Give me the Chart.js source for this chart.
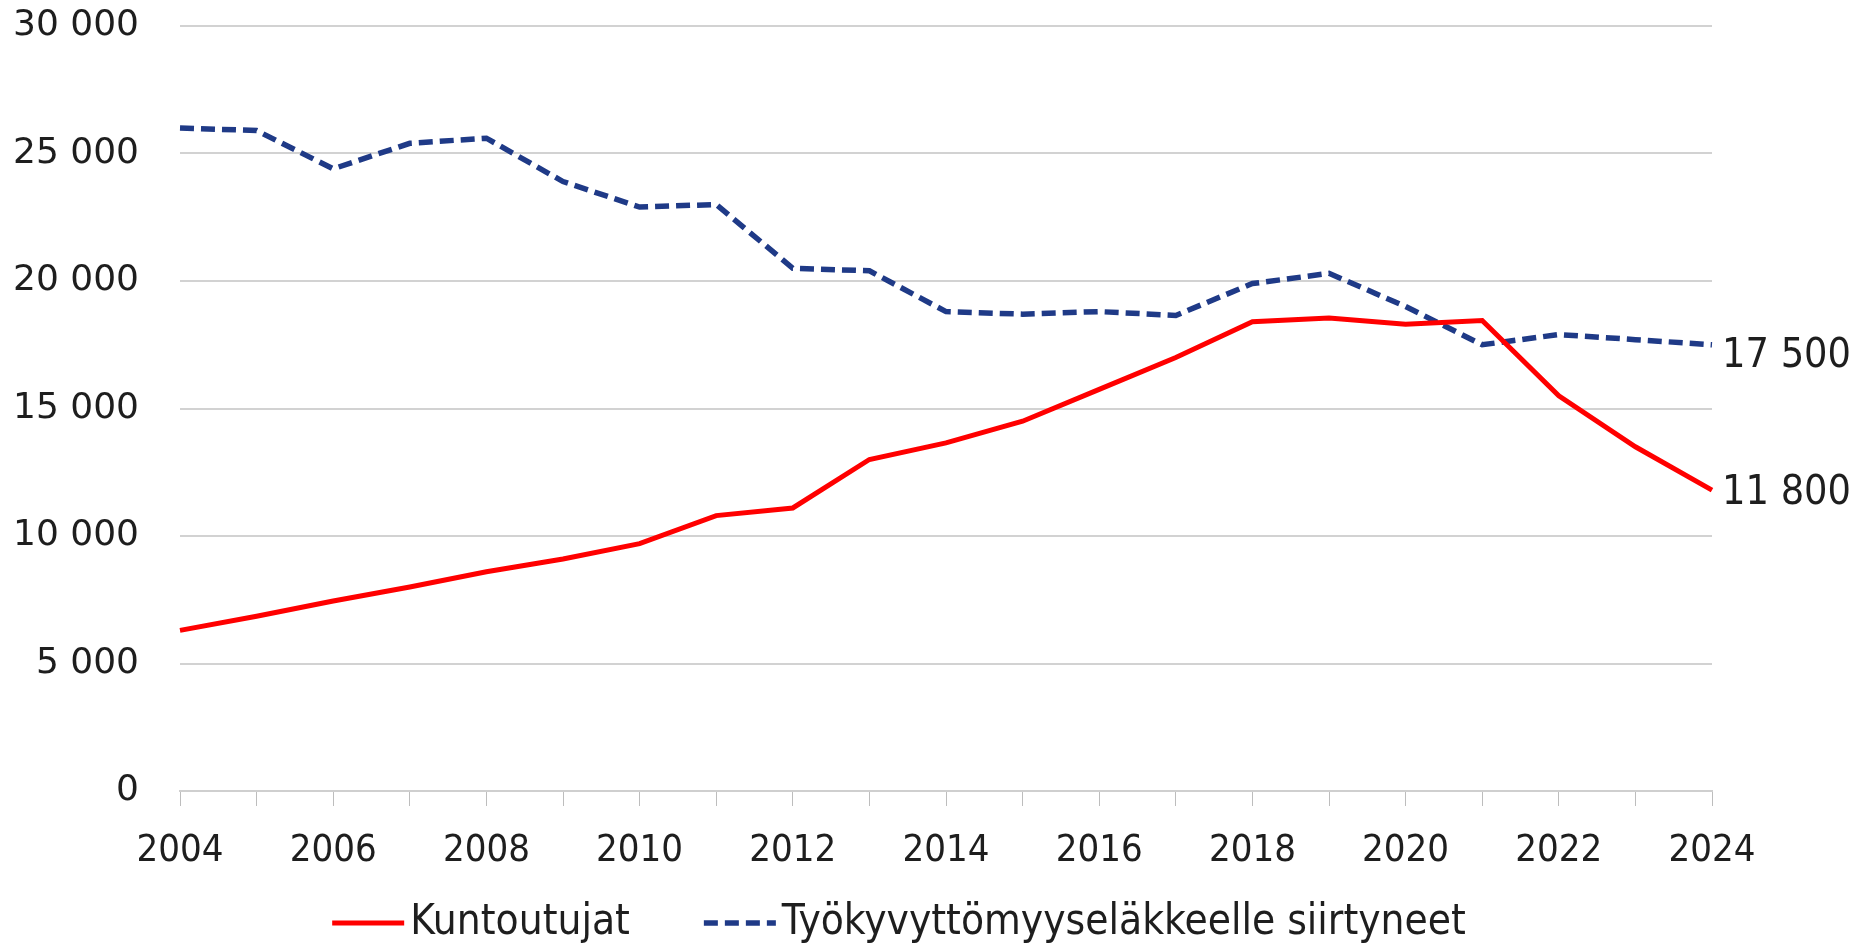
<!DOCTYPE html>
<html>
<head>
<meta charset="utf-8">
<script src="https://cdn.jsdelivr.net/npm/chart.js@4.4.1/dist/chart.umd.min.js"></script>
<style>
  html, body { margin: 0; padding: 0; background: #fff; }
  #wrap { width: 1860px; height: 947px; position: relative; }
</style>
</head>
<body>
<div id="wrap"><canvas id="chart"></canvas></div>
<script>
// Data
const years = ['2004', '2005', '2006', '2007', '2008', '2009', '2010', '2011', '2012', '2013', '2014',
  '2015', '2016', '2017', '2018', '2019', '2020', '2021', '2022', '2023', '2024'];
const kuntoutujat = [6300, 6850, 7450, 8000, 8600, 9100, 9700, 10800, 11100, 13000, 13650,
  14500, 15750, 17000, 18400, 18550, 18300, 18450, 15500, 13500, 11800];
const tkSiirtyneet = [26000, 25900, 24400, 25400, 25600, 23900, 22900, 23000, 20500, 20400, 18800,
  18700, 18800, 18650, 19900, 20300, 19000, 17500, 17900, 17700, 17500];
const yTicks = [0, 5000, 10000, 15000, 20000, 25000, 30000];

const narrowFont = '"Liberation Sans Narrow", "DejaVu Sans Condensed", sans-serif';
const wideFont = '"DejaVu Sans", Verdana, sans-serif';
const textColor = '#1e1e1e';
const labelSize = 38;

function fmt(v) {
    return String(v).replace(/\B(?=(\d{3})+(?!\d))/g, ' ');
}

// value labels at the right end of each line
const endLabels = {
    id: 'endLabels',
    afterDatasetsDraw(chart) {
        const ctx = chart.ctx;
        ctx.save();
        ctx.font = '41px ' + narrowFont;
        ctx.fillStyle = textColor;
        ctx.textAlign = 'left';
        ctx.textBaseline = 'middle';
        chart.data.datasets.forEach((ds, i) => {
            const meta = chart.getDatasetMeta(i);
            const last = meta.data[meta.data.length - 1];
            const val = ds.data[ds.data.length - 1];
            ctx.fillText(fmt(val), last.x + 10, last.y + (i === 1 ? 12 : 3));
        });
        ctx.restore();
    }
};

// simple legend under the axis: line sample close to its text
const bottomLegend = {
    id: 'bottomLegend',
    afterDraw(chart) {
        const ctx = chart.ctx;
        const area = chart.chartArea;
        const sampleW = 72, gap = 6, itemGap = 74;
        ctx.save();
        ctx.font = '42px ' + narrowFont;
        const items = chart.data.datasets.map(ds => ({ ds, w: ctx.measureText(ds.label).width }));
        let total = 0;
        items.forEach((it, i) => { total += sampleW + gap + it.w + (i > 0 ? itemGap : 0); });
        let x = (area.left + area.right) / 2 - 47 - total / 2;
        const y = chart.height - 24;
        items.forEach(it => {
            ctx.beginPath();
            ctx.strokeStyle = it.ds.borderColor;
            ctx.lineWidth = it.ds.borderWidth;
            ctx.setLineDash(it.ds.borderDash || []);
            ctx.moveTo(x, y);
            ctx.lineTo(x + sampleW, y);
            ctx.stroke();
            ctx.setLineDash([]);
            ctx.fillStyle = textColor;
            ctx.textAlign = 'left';
            ctx.textBaseline = 'middle';
            ctx.fillText(it.ds.label, x + sampleW + gap, y);
            x += sampleW + gap + it.w + itemGap;
        });
        ctx.restore();
    }
};

new Chart(document.getElementById('chart'), {
    type: 'line',
    data: {
        labels: years,
        datasets: [{
            label: 'Kuntoutujat',
            data: kuntoutujat,
            borderColor: '#ff0000',
            backgroundColor: '#ff0000',
            borderWidth: 5,
            pointRadius: 0,
            tension: 0
        }, {
            label: 'Työkyvyttömyyseläkkeelle siirtyneet',
            data: tkSiirtyneet,
            borderColor: '#1f3a87',
            backgroundColor: '#1f3a87',
            borderWidth: 5.5,
            borderDash: [14, 7],
            pointRadius: 0,
            tension: 0
        }]
    },
    options: {
        responsive: true,
        maintainAspectRatio: false,
        animation: false,
        layout: { padding: { top: 26, right: 148, left: 0, bottom: 0 } },
        plugins: {
            tooltip: { enabled: false },
            legend: { display: false }
        },
        scales: {
            x: {
                grid: {
                    display: true,
                    drawOnChartArea: false,
                    drawTicks: true,
                    tickLength: 15,
                    color: '#bdbdbd',
                    lineWidth: 1
                },
                border: { display: true, color: '#cfcfcf', width: 2 },
                ticks: {
                    autoSkip: false,
                    maxRotation: 0,
                    padding: 22,
                    color: textColor,
                    font: { family: narrowFont, size: labelSize },
                    callback: function (val, idx) {
                        const lab = this.getLabelForValue(val);
                        return idx % 2 === 0 ? lab : '';
                    }
                },
                afterFit(scale) {
                    scale.height = 156;
                    scale.paddingLeft = 0;
                    scale.paddingRight = 0;
                }
            },
            y: {
                min: 0,
                max: 30000,
                afterBuildTicks(scale) {
                    scale.ticks = yTicks.map(v => ({ value: v }));
                },
                grid: { color: '#d2d2d2', lineWidth: 2, drawTicks: false },
                border: { display: false },
                ticks: {
                    padding: 41,
                    color: textColor,
                    font: { family: wideFont, size: 36 },
                    callback: v => fmt(v)
                },
                afterFit(scale) {
                    scale.width = 180;
                    scale.paddingTop = 0;
                    scale.paddingBottom = 0;
                }
            }
        }
    },
    plugins: [endLabels, bottomLegend]
});
</script>
</body>
</html>
